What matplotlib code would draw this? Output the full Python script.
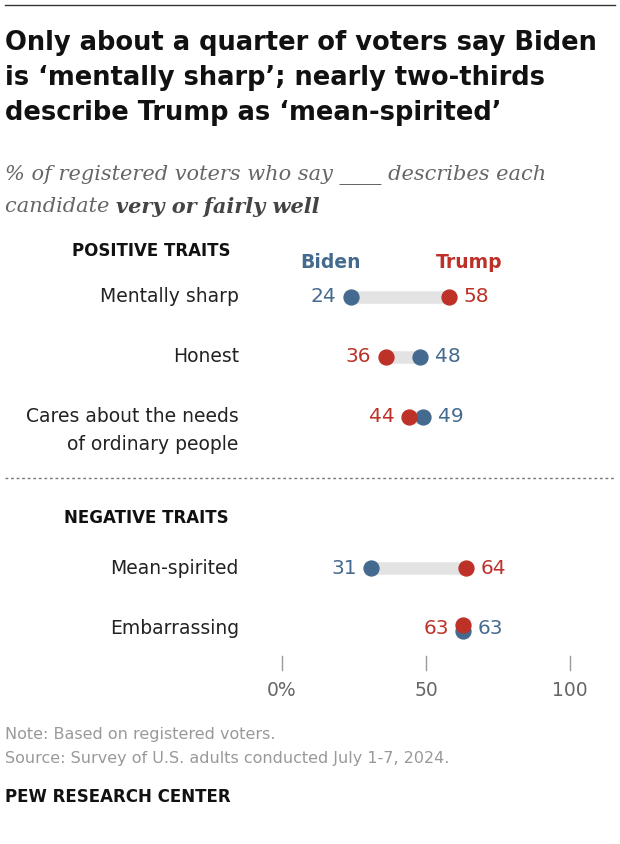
import matplotlib.pyplot as plt

traits = ["Mentally sharp", "Honest", "Cares about the needs\nof ordinary people",
          "Mean-spirited", "Embarrassing"]
biden = [24, 48, 49, 31, 63]
trump = [58, 36, 44, 64, 63]
row_y = [297, 357, 417, 568, 628]

BLUE = "#456a8f"
RED = "#bd3128"
GRAY = "#666666"

fig = plt.figure(figsize=(6.2, 8.44), dpi=100)
ax = fig.add_axes([282 / 620, 0, 288 / 620, 1])
ax.set_xlim(0, 100)
ax.set_ylim(844, 0)
ax.axis("off")

for t, b, tr, y in zip(traits, biden, trump, row_y):
    ax.plot([b, tr], [y, y], color="#e3e3e3", lw=9, solid_capstyle="butt", zorder=1)
    if b == tr:
        ax.scatter([tr], [y - 3], s=115, color=RED, zorder=3)
        ax.scatter([b], [y + 3], s=115, color=BLUE, zorder=2)
    else:
        ax.scatter([b], [y], s=115, color=BLUE, zorder=3)
        ax.scatter([tr], [y], s=115, color=RED, zorder=3)
    # smaller value labelled on the left
    if b <= tr:
        lv, lc, rv, rc = b, BLUE, tr, RED
        if b == tr:
            lc, rc = RED, BLUE
    else:
        lv, lc, rv, rc = tr, RED, b, BLUE
    ax.text(lv - 5, y, str(lv), ha="right", va="center", fontsize=14.5, color=lc)
    ax.text(rv + 5, y, str(rv), ha="left", va="center", fontsize=14.5, color=rc)
    ax.text(-15, y + (14 if "\n" in t else 0), t, ha="right", va="center",
            fontsize=13.5, color="#222222", linespacing=1.6)

ax.text(17, 263, "Biden", ha="center", va="center", fontsize=13.5,
        fontweight="bold", color=BLUE)
ax.text(65, 263, "Trump", ha="center", va="center", fontsize=13.5,
        fontweight="bold", color=RED)

for v in [0, 50, 100]:
    ax.plot([v, v], [656, 670], color="#999999", lw=1, clip_on=False)
    ax.text(v, 691, f"{v}%" if v == 0 else str(v), ha="center", va="center",
            fontsize=13.5, color=GRAY)

# texts in figure pixel coords
def ftext(x, y, s, **kw):
    fig.text(x / 620, 1 - y / 844, s, **kw)

fig.add_artist(plt.Line2D([5 / 620, 615 / 620], [1 - 5 / 844] * 2, color="#333333", lw=1))
fig.add_artist(plt.Line2D([5 / 620, 615 / 620], [1 - 478 / 844] * 2, color="#777777",
                          lw=1, ls=(0, (2, 2))))

ftext(5, 30, "Only about a quarter of voters say Biden\nis \u2018mentally sharp\u2019; nearly two-thirds\ndescribe Trump as \u2018mean-spirited\u2019",
      fontsize=18.5, fontweight="bold", va="top", ha="left", color="#111111", linespacing=1.45)
ftext(5, 175, "% of registered voters who say ____ describes each",
      fontsize=15, family="DejaVu Serif", style="italic", color=GRAY, va="center")
ftext(5, 207, "candidate ", fontsize=15, family="DejaVu Serif", style="italic",
      color=GRAY, va="center")
ftext(116, 207, "very or fairly well", fontsize=15, family="DejaVu Serif",
      style="italic", fontweight="bold", color="#444444", va="center")
ftext(72, 251, "POSITIVE TRAITS", fontsize=12, fontweight="bold", color="#111111", va="center")
ftext(64, 518, "NEGATIVE TRAITS", fontsize=12, fontweight="bold", color="#111111", va="center")
ftext(5, 734, "Note: Based on registered voters.", fontsize=11.5, color="#999999", va="center")
ftext(5, 758, "Source: Survey of U.S. adults conducted July 1-7, 2024.", fontsize=11.5,
      color="#999999", va="center")
ftext(5, 797, "PEW RESEARCH CENTER", fontsize=12, fontweight="bold", color="#111111", va="center")

fig.savefig("out.png", dpi=100)
